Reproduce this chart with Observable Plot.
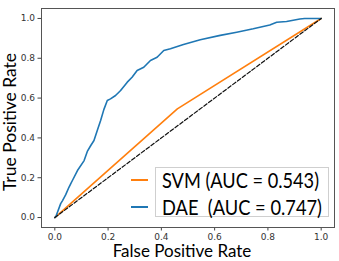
<!DOCTYPE html>
<html>
<head>
<meta charset="utf-8">
<script src="https://cdn.jsdelivr.net/npm/d3@7"></script>
<script src="https://cdn.jsdelivr.net/npm/@observablehq/plot@0.6"></script>
<style>
  html, body { margin: 0; padding: 0; background: #fff; }
  #wrap { position: relative; width: 339px; height: 261px; overflow: hidden; }
  #legend-box { position: absolute; left: 155px; top: 167px; width: 174px; height: 50px;
    border: 1px solid #cfcfcf; background: #fff; box-sizing: border-box; }
  .lg-text { position: absolute; left: 162px; font-family: Lato, "Open Sans", sans-serif; font-size: 21px;
    color: #000; line-height: 1; white-space: pre; transform-origin: left center; }
  .lg-line { position: absolute; left: 131px; width: 17px; height: 2px; }
</style>
</head>
<body>
<div id="wrap"></div>
<script>
// Data
const ticks = [0, 0.2, 0.4, 0.6, 0.8, 1.0];
const svmFpr = [0, 0.46, 1.0];
const svmTpr = [0, 0.546, 1.0];
const daeFpr = [0, 0.004, 0.022, 0.029, 0.041, 0.053, 0.06, 0.066, 0.085, 0.11, 0.122, 0.135, 0.147, 0.16, 0.172, 0.184, 0.197, 0.209, 0.228, 0.247, 0.272, 0.29, 0.309, 0.334, 0.359, 0.384, 0.409, 0.434, 0.483, 0.546, 0.621, 0.683, 0.745, 0.807, 0.833, 0.87, 0.92, 0.938, 1.0];
const daeTpr = [0, 0.005, 0.07, 0.085, 0.115, 0.152, 0.17, 0.186, 0.236, 0.286, 0.332, 0.362, 0.387, 0.44, 0.487, 0.542, 0.588, 0.596, 0.613, 0.638, 0.68, 0.705, 0.739, 0.755, 0.789, 0.805, 0.839, 0.848, 0.869, 0.893, 0.915, 0.931, 0.948, 0.967, 0.981, 0.985, 0.997, 1.0, 1.0];
const chanceX = [0, 1];
const chanceY = [0, 1];
const legendLabels = ["SVM (AUC = 0.543)", "DAE  (AUC = 0.747)"];
const colors = ["#ff7f0e", "#1f77b4"];
const xLabel = "False Positive Rate";
const yLabel = "True Positive Rate";

const svm = svmFpr.map((x, i) => ({x, y: svmTpr[i]}));
const dae = daeFpr.map((x, i) => ({x, y: daeTpr[i]}));
const chance = chanceX.map((x, i) => ({x, y: chanceY[i]}));

const chart = Plot.plot({
  width: 339,
  height: 261,
  marginLeft: 41,
  marginRight: 5,
  marginTop: 8,
  marginBottom: 34,
  style: {fontFamily: "DejaVu Sans, sans-serif", fontSize: "9px", color: "#333", background: "#fff"},
  x: {domain: [-0.05, 1.05], ticks: ticks, tickFormat: d3.format(".1f"), label: null},
  y: {domain: [-0.05, 1.05], ticks: ticks, tickFormat: d3.format(".1f"), label: null},
  marks: [
    Plot.axisX({ticks: ticks, tickFormat: d3.format(".1f"), tickSize: 3.5, tickPadding: 2.5, label: null, stroke: "#444"}),
    Plot.axisY({ticks: ticks, tickFormat: d3.format(".1f"), tickSize: 3.5, tickPadding: 3, label: null, stroke: "#444"}),
    Plot.frame({stroke: "#555", strokeWidth: 1}),
    Plot.line(svm, {x: "x", y: "y", stroke: colors[0], strokeWidth: 1.6}),
    Plot.line(dae, {x: "x", y: "y", stroke: colors[1], strokeWidth: 1.6}),
    Plot.line(chance, {x: "x", y: "y", stroke: "#111", strokeWidth: 1.2, strokeDasharray: "4,2"}),
    Plot.text([xLabel], {frameAnchor: "bottom", dy: 24.5, dx: -6, textAnchor: "middle", lineAnchor: "middle", fontSize: 17,
      fontFamily: "Lato, 'Open Sans', sans-serif", fill: "#000"}),
    Plot.text([yLabel], {frameAnchor: "left", dx: -31, dy: 4, rotate: -90, textAnchor: "middle", lineAnchor: "middle", fontSize: 17.5,
      fontFamily: "Lato, 'Open Sans', sans-serif", fill: "#000"})
  ]
});

const wrap = document.getElementById("wrap");
wrap.appendChild(chart);

const box = document.createElement("div");
box.id = "legend-box";
wrap.appendChild(box);
const rowsY = [180, 207];
const targetW = [157, 160];
legendLabels.forEach((t, i) => {
  const ln = document.createElement("div");
  ln.className = "lg-line";
  ln.style.top = (rowsY[i] - 1) + "px";
  ln.style.background = colors[i];
  wrap.appendChild(ln);
  const tx = document.createElement("div");
  tx.className = "lg-text";
  tx.style.top = (rowsY[i] - 11) + "px";
  tx.textContent = t;
  wrap.appendChild(tx);
  const w = tx.getBoundingClientRect().width;
  tx.style.transform = `scaleX(${targetW[i] / w})`;
});
</script>
</body>
</html>
